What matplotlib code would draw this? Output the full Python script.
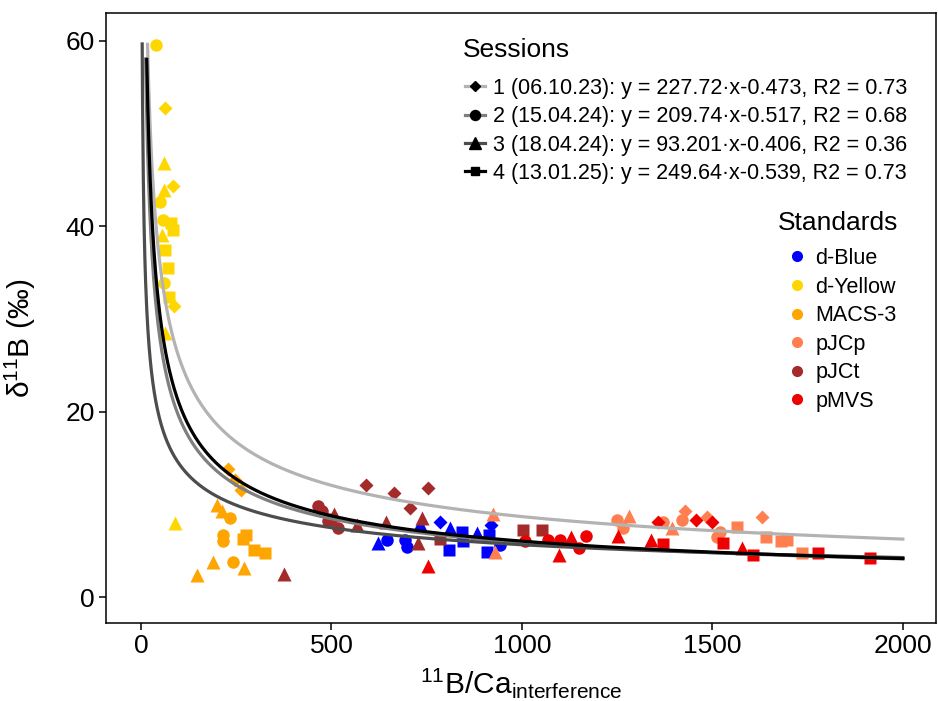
import numpy as np
import matplotlib
matplotlib.use('Agg')
import matplotlib.pyplot as plt
from matplotlib.lines import Line2D

plt.rcParams['font.family'] = ['Liberation Sans', 'DejaVu Sans']
plt.rcParams['mathtext.fontset'] = 'custom'
plt.rcParams['mathtext.rm'] = 'Liberation Sans'
plt.rcParams['mathtext.it'] = 'Liberation Sans:italic'

# fitted power laws per session: y = a * x^b
SESSION_LABELS = ['1 (06.10.23): y = 227.72·x-0.473, R2 = 0.73',
                  '2 (15.04.24): y = 209.74·x-0.517, R2 = 0.68',
                  '3 (18.04.24): y = 93.201·x-0.406, R2 = 0.36',
                  '4 (13.01.25): y = 249.64·x-0.539, R2 = 0.73']
fit_a = [227.72, 209.74, 93.201, 249.64]
fit_b = [-0.473, -0.517, -0.406, -0.539]

STANDARDS = ['d-Blue', 'd-Yellow', 'MACS-3', 'pJCp', 'pJCt', 'pMVS']

# points per standard: x, y, session
blue_x = [623, 647, 693, 697, 732, 785, 811, 842, 846, 809, 881, 918, 914, 907, 942]
blue_y = [5.8, 6.1, 6.1, 5.4, 7.9, 8.1, 7.5, 7.0, 6.0, 5.1, 6.9, 7.8, 6.7, 4.9, 5.6]
blue_s = [3, 2, 2, 2, 3, 1, 3, 4, 4, 4, 3, 1, 4, 4, 2]

yellow_x = [39, 63, 59, 61, 83, 50, 57, 79, 83, 54, 63, 70, 61, 74, 87, 63, 89]
yellow_y = [59.5, 52.8, 46.8, 43.9, 44.3, 42.6, 40.7, 40.3, 39.6, 39.0, 37.4, 35.5, 33.9, 32.4, 31.4, 28.5, 8.0]
yellow_s = [2, 1, 3, 3, 1, 2, 2, 4, 4, 3, 4, 4, 2, 4, 1, 3, 3]

macs_x = [229, 247, 262, 200, 212, 234, 216, 216, 276, 267, 297, 325, 190, 241, 269, 146]
macs_y = [13.8, 12.6, 11.5, 9.9, 9.3, 8.5, 6.7, 6.0, 6.7, 6.3, 5.1, 4.8, 3.8, 3.8, 3.1, 2.4]
macs_s = [1, 1, 1, 3, 3, 2, 2, 2, 4, 4, 4, 4, 3, 2, 3, 3]

jcp_x = [925, 929, 1249, 1282, 1266, 1371, 1393, 1428, 1419, 1485, 1511, 1520, 1565, 1629, 1642, 1681, 1696, 1734]
jcp_y = [9.0, 4.9, 8.3, 8.7, 7.4, 8.1, 7.5, 9.3, 8.3, 8.6, 6.5, 7.0, 7.6, 8.6, 6.5, 6.0, 6.1, 4.7]
jcp_s = [3, 3, 2, 3, 2, 2, 3, 1, 2, 1, 2, 2, 4, 1, 4, 4, 4, 4]

jct_x = [374, 465, 474, 507, 500, 492, 518, 591, 664, 706, 754, 566, 643, 737, 728, 785, 1003, 1053]
jct_y = [2.5, 9.8, 9.3, 9.0, 8.4, 8.2, 7.4, 12.1, 11.2, 9.6, 11.8, 7.8, 8.1, 8.5, 5.8, 6.3, 7.2, 7.2]
jct_s = [3, 2, 2, 3, 4, 2, 2, 1, 1, 1, 1, 3, 3, 3, 3, 4, 4, 4]

mvs_x = [754, 1008, 1069, 1100, 1098, 1130, 1150, 1167, 1253, 1358, 1340, 1369, 1458, 1500, 1528, 1577, 1607, 1778, 1915]
mvs_y = [3.3, 6.0, 6.1, 6.1, 4.5, 6.5, 5.3, 6.6, 6.6, 8.1, 6.1, 5.7, 8.3, 8.1, 5.8, 5.3, 4.5, 4.8, 4.2]
mvs_s = [3, 2, 2, 2, 3, 3, 2, 2, 3, 1, 3, 4, 1, 1, 4, 3, 4, 4, 4]

std_colors = ['#0000FF', '#FFD700', '#FFA500', '#FF7F50', '#A52A2A', '#EE0000']
session_markers = {1: ('D', 7), 2: ('o', 9), 3: ('^', 10), 4: ('s', 8)}
line_colors = ['#B3B3B3', '#7F7F7F', '#4D4D4D', '#000000']

W, H = 938, 701
fig = plt.figure(figsize=(W / 100, H / 100), dpi=100)
ax = fig.add_axes([106 / W, 1 - 623 / H, 830 / W, 610 / H])

all_points = [(blue_x, blue_y, blue_s), (yellow_x, yellow_y, yellow_s), (macs_x, macs_y, macs_s),
              (jcp_x, jcp_y, jcp_s), (jct_x, jct_y, jct_s), (mvs_x, mvs_y, mvs_s)]
for (xs, ys, ss), col in zip(all_points, std_colors):
    xs, ys, ss = np.array(xs), np.array(ys), np.array(ss)
    for s, (mk, ms) in session_markers.items():
        sel = ss == s
        ax.plot(xs[sel], ys[sel], ls='none', marker=mk, ms=ms, color=col, mec='none', zorder=2)

xgrid = np.arange(1, 2001, 1.0)
for a, b, col in zip(fit_a, fit_b, line_colors):
    yfit = a * xgrid ** b
    keep = yfit <= 60
    ax.plot(xgrid[keep], yfit[keep], color=col, lw=2.3, zorder=3)

ax.set_xlim(-92, 2087)
ax.set_ylim(-2.8, 63)
ax.set_xticks([0, 500, 1000, 1500, 2000])
ax.set_yticks([0, 20, 40, 60])
ax.tick_params(labelsize=19, length=5, width=1.1, color='black', direction='out', pad=3)
for sp in ax.spines.values():
    sp.set_linewidth(1.1)
ax.set_xlabel(r'$^{11}$B/Ca$_{\mathrm{interference}}$', fontsize=21.5, labelpad=6)
ax.set_ylabel(r'δ$^{11}$B (‰)', fontsize=21.5)
ax.yaxis.set_label_coords(-0.082, 0.466)

# legend titles placed by hand
fig.text(463 / W, 1 - 50 / H, 'Sessions', fontsize=19, va='center', ha='left')
fig.text(778 / W, 1 - 223 / H, 'Standards', fontsize=19, va='center', ha='left')

sess_handles = [Line2D([0], [0], color=c, lw=2.3, marker=session_markers[i + 1][0],
                       ms=session_markers[i + 1][1] * 0.8, mfc='black', mec='black')
                for i, c in enumerate(line_colors)]
leg1 = ax.legend(sess_handles, SESSION_LABELS, loc='upper left',
                 bbox_to_anchor=(465 / W, 1 - 78 / H), bbox_transform=fig.transFigure,
                 frameon=False, fontsize=15.5, handlelength=0.95, borderpad=0, borderaxespad=0,
                 handletextpad=0.33, labelspacing=0.34)
ax.add_artist(leg1)

std_handles = [Line2D([0], [0], ls='none', marker='o', ms=8, color=c, mec='none') for c in std_colors]
ax.legend(std_handles, STANDARDS, loc='upper left',
          bbox_to_anchor=(786 / W, 1 - 248 / H), bbox_transform=fig.transFigure,
          frameon=False, fontsize=15.5, handlelength=1.0, borderpad=0, borderaxespad=0,
          handletextpad=0.35, labelspacing=0.35)

fig.savefig('out.png', dpi=100)
